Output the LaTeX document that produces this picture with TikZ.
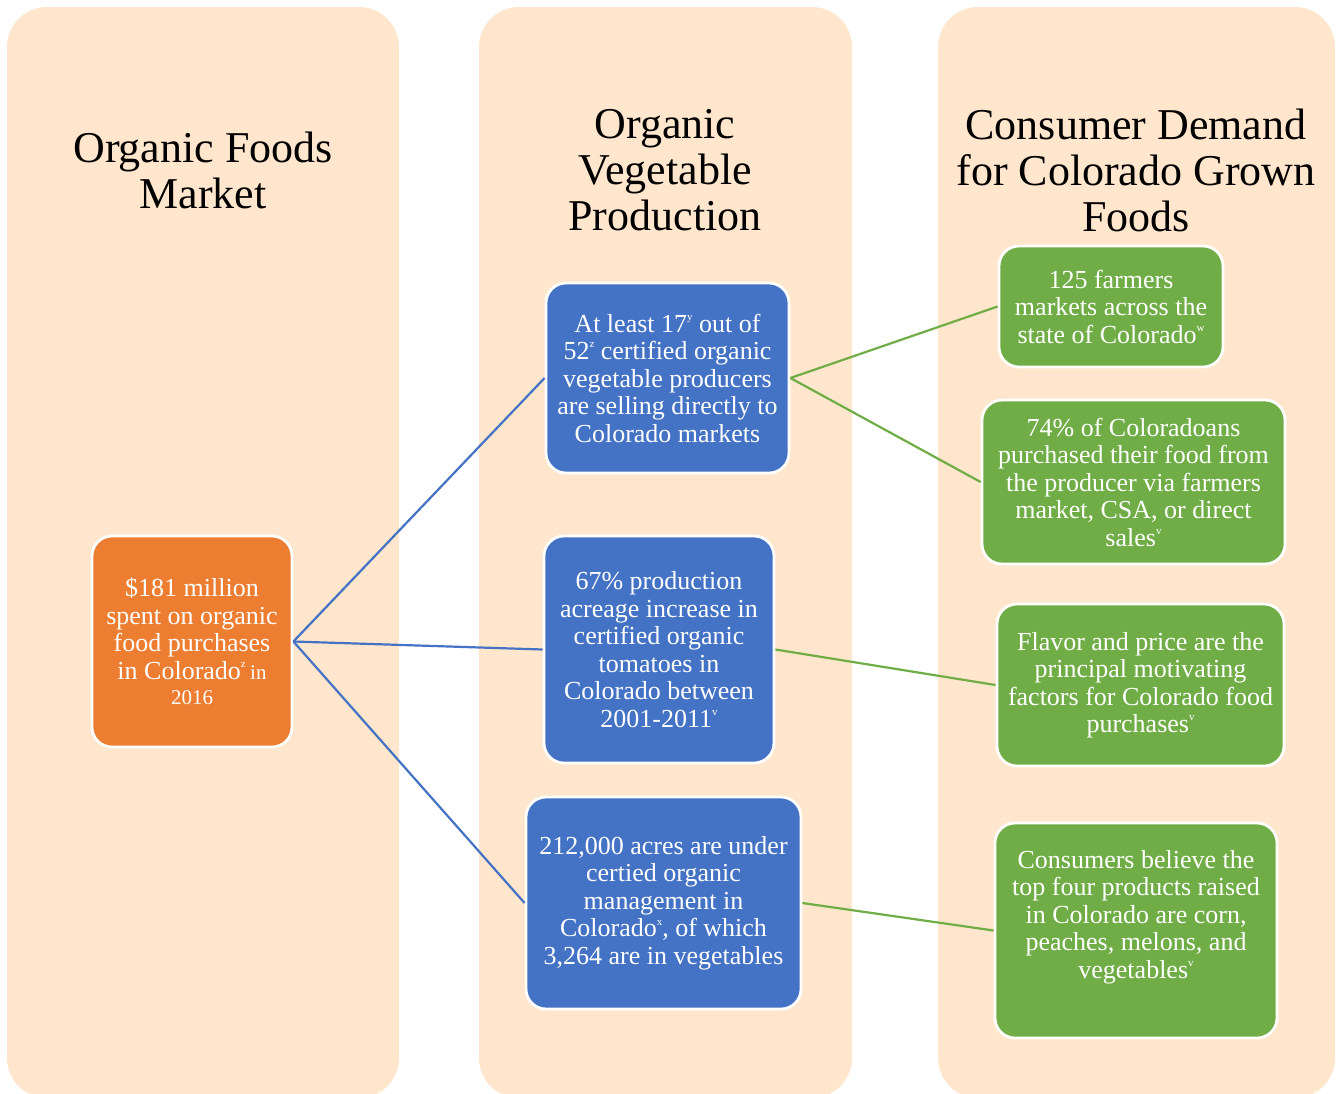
\documentclass[tikz,border=0pt]{standalone}
\usepackage{fontspec}
\setmainfont{Liberation Serif}
\definecolor{colbg}{RGB}{255,230,204}
\definecolor{orng}{RGB}{237,125,49}
\definecolor{blu}{RGB}{68,114,196}
\definecolor{grn}{RGB}{112,173,71}
\newcommand\supr[1]{\raisebox{0.45em}{\fontsize{5.5}{5.5}\selectfont #1}}
\newcommand\smalltxt[1]{{\fontsize{10.5}{12}\selectfont #1}}
\tikzset{
  column/.style={fill=colbg, rounded corners=20pt},
  heading/.style={align=center, font=\fontsize{22}{23}\selectfont, text=black, inner sep=0pt},
  card/.style={draw=white, line width=1.4pt, rounded corners=10pt, text=white,
               align=center, font=\fontsize{13}{13.75}\selectfont, inner sep=0pt},
  bluelink/.style={draw=blu, line width=1.1pt},
  greenlink/.style={draw=grn, line width=1.1pt}
}
\begin{document}
\begin{tikzpicture}[x=0.5pt,y=-0.5pt]
\useasboundingbox (0,0) rectangle (1338,1093);
\begin{scope}
\clip (0,0) rectangle (1338,1093);
% three background columns
\fill[column] (7,7) rectangle (399,1098);
\fill[column] (479,7) rectangle (852,1098);
\fill[column] (938,7) rectangle (1335,1098);
\end{scope}

% column headings
\node[heading] (h1) at (203,170) {Organic Foods\\Market};
\node[heading] (h2) at (665,170) {Organic\\Vegetable\\Production};
\node[heading] (h3) at (1136,170) {Consumer Demand\\for Colorado Grown\\Foods};

% market card
\node[card, fill=orng, minimum width=100pt, minimum height=105.5pt] (mkt) at (192,641.5)
  {\$181 million\\spent on organic\\food purchases\\in Colorado\supr{z}\,\smalltxt{in}\\[-1pt]\smalltxt{2016}};

% production cards
\node[card, fill=blu, minimum width=121.5pt, minimum height=95pt] (p1) at (667.5,378)
  {At least 17\supr{y} out of\\52\supr{z} certified organic\\vegetable producers\\are selling directly to\\Colorado markets};
\node[card, fill=blu, minimum width=115pt, minimum height=113.5pt] (p2) at (659,649.5)
  {67\% production\\acreage increase in\\certified organic\\tomatoes in\\Colorado between\\2001-2011\supr{v}};
\node[card, fill=blu, minimum width=137.5pt, minimum height=106pt] (p3) at (663.5,903)
  {212,000 acres are under\\certied organic\\management in\\Colorado\supr{x}, of which\\3,264 are in vegetables};

% consumer demand cards
\node[card, fill=grn, minimum width=112pt, minimum height=60.5pt] (d1) at (1111,306.5)
  {125 farmers\\markets across the\\state of Colorado\supr{w}};
\node[card, fill=grn, minimum width=151.5pt, minimum height=82pt] (d2) at (1133.5,482)
  {74\% of Coloradoans\\purchased their food from\\the producer via farmers\\market, CSA, or direct\\sales\supr{v}};
\node[card, fill=grn, minimum width=143.5pt, minimum height=81pt] (d3) at (1140.5,685)
  {Flavor and price are the\\principal motivating\\factors for Colorado food\\purchases\supr{v}};
\node[card, fill=grn, minimum width=141pt, minimum height=107.5pt] (d4) at (1136,930.5) {};
\node[text=white, align=center, font=\fontsize{13}{13.75}\selectfont, inner sep=0pt] (d4t) at (1136,917)
  {Consumers believe the\\top four products raised\\in Colorado are corn,\\peaches, melons, and\\vegetables\supr{v}};

% connectors
\draw[bluelink] (mkt.east) -- (p1.west);
\draw[bluelink] (mkt.east) -- (p2.west);
\draw[bluelink] (mkt.east) -- (p3.west);
\draw[greenlink] (p1.east) -- (d1.west);
\draw[greenlink] (p1.east) -- (d2.west);
\draw[greenlink] (p2.east) -- (d3.west);
\draw[greenlink] (p3.east) -- (d4.west);
\end{tikzpicture}
\end{document}
